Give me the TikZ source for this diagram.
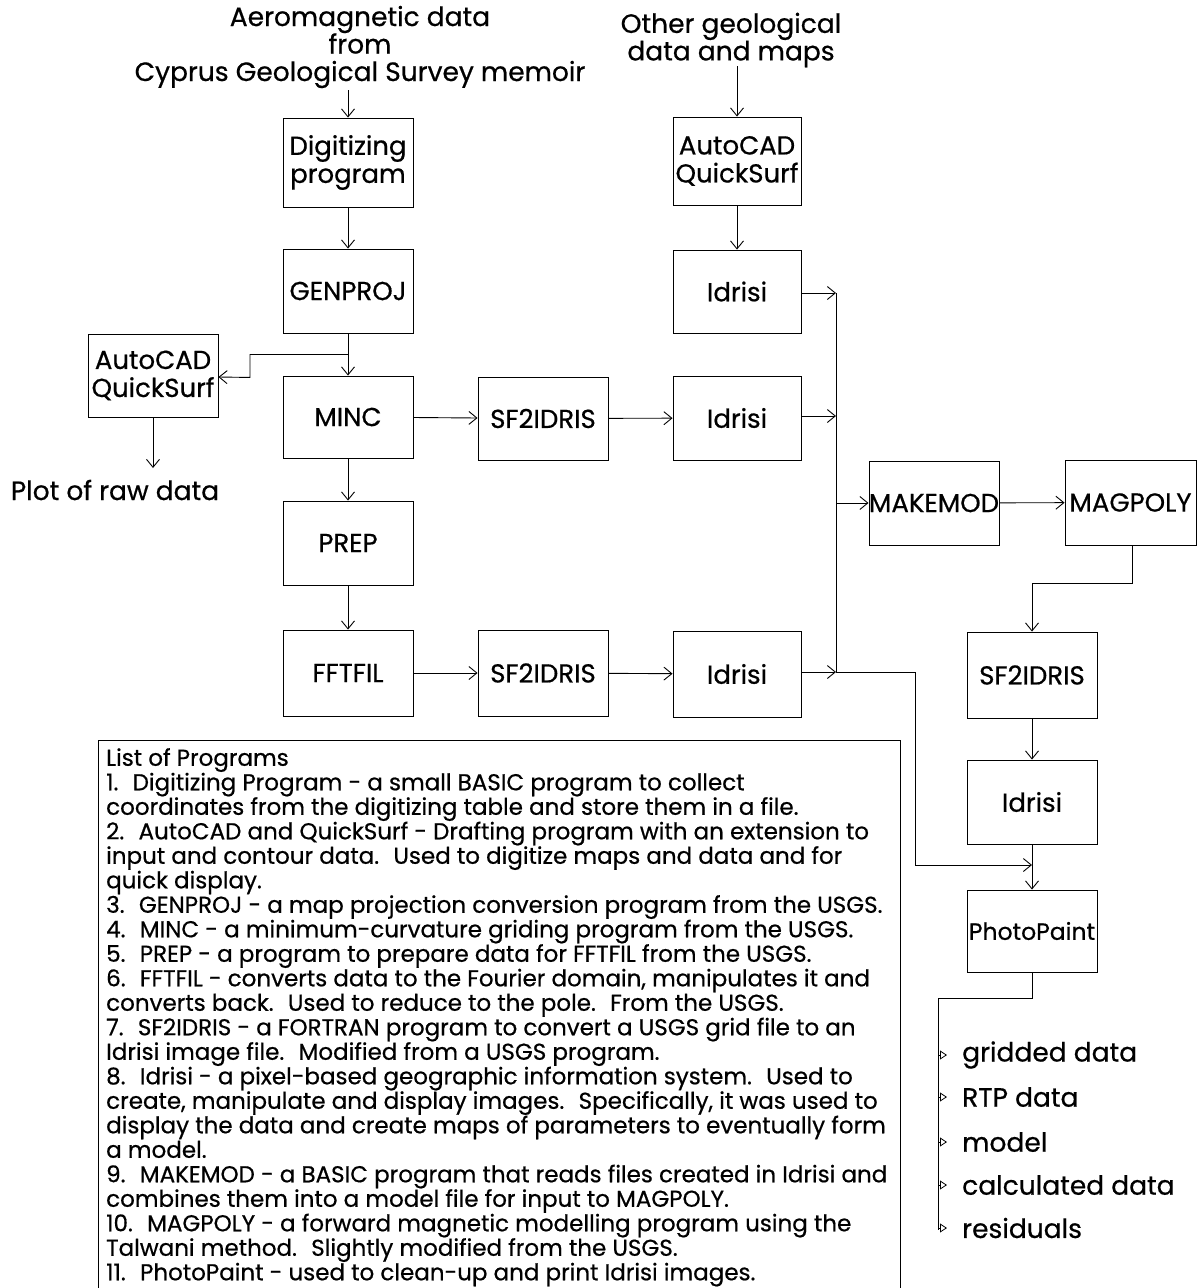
\documentclass[tikz,border=0pt]{standalone}
\usepackage{fontspec}
\setmainfont{Poppins}[UprightFeatures={FakeBold=0.6}]
\usetikzlibrary{arrows.meta}
\newcommand\bxfont{\fontsize{26}{28}\selectfont}
\newcommand\lbfont{\fontsize{26.5}{27.5}\selectfont}
\newcommand\lsfont{\fontsize{23}{24.5}\selectfont}
\begin{document}
\begin{tikzpicture}[x=1pt,y=-1pt,
  box/.style={draw, line width=0.9pt, minimum width=130pt, minimum height=84pt, inner sep=0pt, align=center, font=\bxfont},
  lab/.style={align=center, inner sep=0pt, font=\lbfont},
  arr/.style={-{Straight Barb[length=8pt,width=13pt]}, line width=0.9pt},
  outarr/.style={-{Triangle[open,length=7pt,width=9pt]}, line width=0.8pt},
  ln/.style={line width=0.9pt}]
\useasboundingbox (0,0) rectangle (1199,1288);
% top labels
\node[lab] (aero) at (360,47) {Aeromagnetic data\\from\\Cyprus Geological Survey memoir};
\node[lab] (other) at (731,40) {Other geological\\data and maps};
% boxes
\node[box, minimum height=89pt] (dig) at (348,162.5) {Digitizing\\program};
\node[box] (genproj) at (348,291) {GENPROJ};
\node[box, minimum height=82pt] (minc) at (348,417) {MINC};
\node[box] (prep) at (348,543) {PREP};
\node[box, minimum height=86pt] (fftfil) at (348,673) {FFTFIL};
\node[box, minimum height=83pt] (sfa) at (543,418.5) {SF2IDRIS};
\node[box, minimum height=86pt] (sfb) at (543,673) {SF2IDRIS};
\node[box, minimum width=128pt, minimum height=88pt] (cadr) at (737,161) {AutoCAD\\QuickSurf};
\node[box, minimum width=128pt, minimum height=83pt] (ida) at (737,291.5) {Idrisi};
\node[box, minimum width=128pt] (idb) at (737,418) {Idrisi};
\node[box, minimum width=128pt, minimum height=86pt] (idc) at (737,674) {Idrisi};
\node[box, minimum height=83pt] (cadl) at (153,375.5) {AutoCAD\\QuickSurf};
\node[box] (makemod) at (934,503) {MAKEMOD};
\node[box, minimum width=131pt, minimum height=85pt] (magpoly) at (1130.5,502.5) {MAGPOLY};
\node[box, minimum height=86pt] (sfc) at (1032,675) {SF2IDRIS};
\node[box] (idd) at (1032,802) {Idrisi};
\node[box, minimum height=82pt, font=\fontsize{23.5}{26}\selectfont] (photo) at (1032,931) {PhotoPaint};
\node[lab] (plot) at (115,490) {Plot of raw data};
% list frame
\node[draw, line width=0.9pt, anchor=north west, minimum width=802pt, minimum height=600pt, inner sep=0pt] (frame) at (98,740) {};
\node[anchor=north west, align=left, inner sep=0pt, font=\lsfont] (list) at (106,748) {List of Programs\\
1.~ Digitizing Program - a small BASIC program to collect\\
coordinates from the digitizing table and store them in a file.\\
2.~ AutoCAD and QuickSurf - Drafting program with an extension to\\
input and contour data.~ Used to digitize maps and data and for\\
quick display.\\
3.~ GENPROJ - a map projection conversion program from the USGS.\\
4.~ MINC - a minimum-curvature griding program from the USGS.\\
5.~ PREP - a program to prepare data for FFTFIL from the USGS.\\
6.~ FFTFIL - converts data to the Fourier domain, manipulates it and\\
converts back.~ Used to reduce to the pole.~ From the USGS.\\
7.~ SF2IDRIS - a FORTRAN program to convert a USGS grid file to an\\
Idrisi image file.~ Modified from a USGS program.\\
8.~ Idrisi - a pixel-based geographic information system.~ Used to\\
create, manipulate and display images.~ Specifically, it was used to\\
display the data and create maps of parameters to eventually form\\
a model.\\
9.~ MAKEMOD - a BASIC program that reads files created in Idrisi and\\
combines them into a model file for input to MAGPOLY.\\
10.~ MAGPOLY - a forward magnetic modelling program using the\\
Talwani method.~ Slightly modified from the USGS.\\
11.~ PhotoPaint - used to clean-up and print Idrisi images.};
% output labels
\node[lab, anchor=west] (o1) at (962,1055) {gridded data};
\node[lab, anchor=west] (o2) at (962,1097) {RTP data};
\node[lab, anchor=west] (o3) at (962,1142) {model};
\node[lab, anchor=west] (o4) at (962,1185) {calculated data};
\node[lab, anchor=west] (o5) at (962,1228) {residuals};
% coordinates
\coordinate (b1) at (836,293);
\coordinate (b2) at (836,416);
\coordinate (b3) at (836,672);
\coordinate (bm) at (836,503);
\coordinate (pl) at (153,468);
\coordinate (ot) at (938,998);
\coordinate (ob) at (938,1230);
\coordinate (a0) at (348,90);
\coordinate (c0) at (737,66);
% connectors
\draw[arr] (a0) -- (dig.north);
\draw[arr] (dig) -- (genproj);
\draw[arr] (genproj) -- (minc);
\draw[arr] (genproj.south) ++(0,21) -- ++(-98,0) -- ++(0,23) -- (cadl.east |- 0,377);
\draw[arr] (cadl.south) -- (pl);
\draw[arr] (minc) -- (prep);
\draw[arr] (prep) -- (fftfil);
\draw[arr] (minc) -- (sfa);
\draw[arr] (sfa) -- (idb);
\draw[arr] (fftfil) -- (sfb);
\draw[arr] (sfb) -- (idc);
\draw[arr] (c0) -- (cadr.north);
\draw[arr] (cadr) -- (ida);
\draw[arr] (ida.east |- b1) -- (b1);
\draw[arr] (idb.east |- b2) -- (b2);
\draw[arr] (idc.east |- b3) -- (b3);
\draw[ln] (b1) -- (b3);
\draw[arr] (bm) -- (makemod.west);
\draw[arr] (makemod) -- (magpoly);
\draw[arr] (magpoly.south) ++(1.5,0) -- ++(0,38) -| (sfc.north);
\draw[arr] (sfc) -- (idd);
\draw[arr] (idd) -- (photo);
\draw[arr] (b3) -- (915,672) -- (915,865) -- (idd.south |- 0,865);
\draw[ln] (photo.south) |- (ot) -- (ob);
\foreach \o in {o1,o2,o3,o4,o5}{\draw[outarr] (ot |- \o.west) -- ++(9,0);}
\end{tikzpicture}
\end{document}
